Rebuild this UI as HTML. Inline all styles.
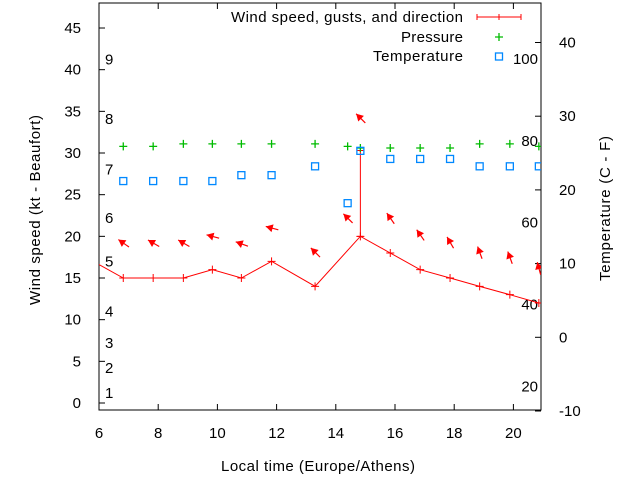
<!DOCTYPE html>
<html><head><meta charset="utf-8"><style>
body{margin:0;background:#fff;width:640px;height:480px;overflow:hidden}
svg{font-family:"Liberation Sans",sans-serif;font-size:15px}
</style></head><body>
<svg id="c" width="640" height="480"></svg>
<script>
const hours=[6.82,7.83,8.85,9.83,10.81,11.83,13.3,14.4,14.83,15.84,16.85,17.86,18.86,19.88,20.86];
const speedHours=[5.8,6.82,7.83,8.85,9.83,10.81,11.83,13.3,14.83,15.84,16.85,17.86,18.86,19.88,20.86];
const speeds=[17,15,15,15,16,15,17,14,20,18,16,15,14,13,12];
const gustHours=[14.83];
const gustLow=[20];
const gustHigh=[30.3];
const arrowVals=[19.2,19.2,19.2,20.0,19.1,21.0,18.1,22.2,34.2,22.2,20.2,19.3,18.1,17.5,16.2];
const arrowDirs=[145,150,150,165,160,165,135,135,135,125,125,120,110,110,105];
const pressure=[30.8,30.8,31.1,31.1,31.1,31.1,31.1,30.8,30.6,30.6,30.6,30.6,31.1,31.1,30.8];
const temps=[21.2,21.2,21.2,21.2,22.0,22.0,23.2,18.2,25.3,24.2,24.2,24.2,23.2,23.2,23.2];
const xTicks=[6,8,10,12,14,16,18,20];
const yTicks=[0,5,10,15,20,25,30,35,40,45];
const y2Ticks=[-10,0,10,20,30,40];
const fTicks=[20,40,60,80,100];
const bftLabels=["1","2","3","4","5","6","7","8","9"];
const bftVals=[1.2,4.2,7.2,11.0,17.0,22.2,28.0,34.1,41.2];

const L=99,R=541,T=3,B=410;
const X=h=>L+(h-6)*29.6;
const Y=v=>403-v*8.333;
const Y2=c=>337.3-c*7.37;
const YF=f=>Y2((f-32)*5/9);
const svg=document.getElementById('c');
const NS='http://www.w3.org/2000/svg';
function mk(tag,a,parent){const e=document.createElementNS(NS,tag);for(const k in a)e.setAttribute(k,a[k]);(parent||svg).appendChild(e);return e;}

const defs=mk('defs',{});
const cp=mk('clipPath',{id:'cp'},defs);
mk('rect',{x:L,y:T,width:R-L,height:B-T},cp);

const frame=mk('rect',{x:L,y:T,width:R-L,height:B-T,fill:'none',stroke:'#000','stroke-width':1});



xTicks.forEach(t=>{
  const x=X(t);
  const tk=mk('path',{d:`M${x},${B}v-6M${x},${T}v6`,stroke:'#000'});
  
  
  const tx=mk('text',{x:x,y:B+28,'text-anchor':'middle'});tx.textContent=t;
  
  
});
yTicks.forEach(t=>{
  const y=Y(t);
  const tk=mk('path',{d:`M${L},${y}h6`,stroke:'#000'});
  
  
  const tx=mk('text',{x:L-18,y:y+5,'text-anchor':'end'});tx.textContent=t;
  
  
});
y2Ticks.forEach(t=>{
  const y=Y2(t);
  const tk=mk('path',{d:`M${R},${y}h-6`,stroke:'#000'});
  
  
  const tx=mk('text',{x:R+18,y:y+5,'text-anchor':'start'});tx.textContent=t;
  
  
});
fTicks.forEach(t=>{
  const tx=mk('text',{x:538,y:YF(t)+5,'text-anchor':'end'});tx.textContent=t;
  
  
});
bftLabels.forEach((s,i)=>{
  const tx=mk('text',{x:105,y:Y(bftVals[i])+5});tx.textContent=s;
  
  
});

const g=mk('g',{'clip-path':'url(#cp)'});
let d='';speedHours.forEach((h,i)=>{d+=(i?'L':'M')+X(h)+','+Y(speeds[i]);});
const ln=mk('path',{d:d,fill:'none',stroke:'#f00','stroke-width':1},g);


speedHours.forEach((h,i)=>{
  const x=X(h),y=Y(speeds[i]);
  const p=mk('path',{d:`M${x-4},${y}h8M${x},${y-4}v8`,stroke:'#f00'},g);
  
  
});
gustHours.forEach((h,i)=>{
  const x=X(h);
  const p=mk('path',{d:`M${x},${Y(gustLow[i])}V${Y(gustHigh[i])}M${x-3},${Y(gustHigh[i])}h6M${x-3},${Y(gustLow[i])}h6`,stroke:'#f00'},g);
  
  
});
hours.forEach((h,i)=>{
  const cx=X(h),cy=Y(arrowVals[i]);
  const a=arrowDirs[i]*Math.PI/180;
  const ux=Math.cos(a),uy=-Math.sin(a);
  const tx=cx+ux*6,ty=cy+uy*6,bx=cx-ux*7,by=cy-uy*7;
  const px=-uy,py=ux;
  const hx=tx-ux*7,hy=ty-uy*7;
  const grp=mk('g',{},g);
  
  
  mk('path',{d:`M${bx},${by}L${tx},${ty}`,stroke:'#f00','stroke-width':1.2},grp);
  mk('path',{d:`M${tx},${ty}L${hx+px*4},${hy+py*4}L${hx-px*4},${hy-py*4}Z`,fill:'#f00'},grp);
});
hours.forEach((h,i)=>{
  const x=X(h),y=Y(pressure[i]);
  const p=mk('path',{d:`M${x-4},${y}h8M${x},${y-4}v8`,stroke:'#0b0','stroke-width':1.3},g);
  
  
});
hours.forEach((h,i)=>{
  const x=X(h),y=Y2(temps[i]);
  const p=mk('rect',{x:x-3.5,y:y-3.5,width:7,height:7,fill:'none',stroke:'#08f','stroke-width':1.3},g);
  
  
});
</script>
<svg width="640" height="480" style="position:absolute;left:0;top:0" font-family="Liberation Sans, sans-serif" font-size="16">
<g>
<text x="231" y="22" textLength="232" lengthAdjust="spacing">Wind speed, gusts, and direction</text>
<path d="M477,17h44M477,14v6M521,14v6M499,14v6" stroke="#f00"/>
<text x="401" y="42" textLength="62" lengthAdjust="spacing">Pressure</text>
<path d="M495,37h8M499,33v8" stroke="#0b0" stroke-width="1.3"/>
<text x="373" y="61" textLength="90" lengthAdjust="spacing">Temperature</text>
<rect x="495.5" y="53" width="7" height="7" fill="none" stroke="#08f" stroke-width="1.3"/>
</g>
<text x="221" y="471" textLength="194" lengthAdjust="spacing">Local time (Europe/Athens)</text>
<text transform="translate(40,305) rotate(-90)" textLength="190" lengthAdjust="spacing">Wind speed (kt - Beaufort)</text>
<text transform="translate(610,281) rotate(-90)" textLength="145" lengthAdjust="spacing">Temperature (C - F)</text>
</svg>
</body></html>
